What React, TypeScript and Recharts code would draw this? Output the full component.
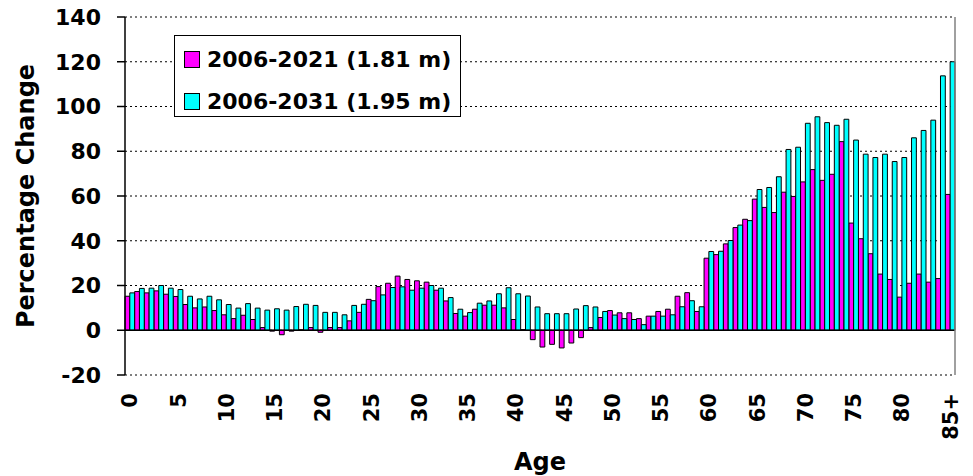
import { BarChart, Bar, XAxis, YAxis, CartesianGrid, ReferenceLine, Legend } from "recharts"

// single years of age, last group is open-ended
const ages = [
  "0", "1", "2", "3", "4", "5", "6", "7", "8", "9",
  "10", "11", "12", "13", "14", "15", "16", "17", "18", "19",
  "20", "21", "22", "23", "24", "25", "26", "27", "28", "29",
  "30", "31", "32", "33", "34", "35", "36", "37", "38", "39",
  "40", "41", "42", "43", "44", "45", "46", "47", "48", "49",
  "50", "51", "52", "53", "54", "55", "56", "57", "58", "59",
  "60", "61", "62", "63", "64", "65", "66", "67", "68", "69",
  "70", "71", "72", "73", "74", "75", "76", "77", "78", "79",
  "80", "81", "82", "83", "84", "85+",
]

// % change 2006-2021
const change2021 = [
  15.2, 17.3, 16.7, 17.6, 16.1, 15.1, 11.5, 10.0, 10.4, 8.8,
  6.9, 5.2, 6.7, 4.8, 1.2, -0.4, -2.0, -0.4, 0.2, 1.2,
  -0.9, 1.2, 1.2, 4.2, 8.0, 13.8, 19.5, 21.0, 24.2, 22.7,
  22.1, 21.5, 17.9, 13.1, 7.5, 6.3, 9.4, 11.2, 11.2, 10.0,
  4.8, 0.3, -4.2, -7.5, -6.3, -7.9, -5.7, -3.3, 1.2, 5.7,
  8.8, 7.8, 7.8, 5.2, 6.3, 8.4, 9.4, 15.2, 16.8, 8.4,
  32.2, 33.8, 38.6, 45.9, 49.6, 58.6, 54.9, 52.6, 61.7, 59.8,
  66.3, 71.8, 67.0, 69.7, 84.3, 47.9, 40.9, 34.2, 25.1, 22.7,
  14.8, 21.0, 25.1, 21.5, 23.1, 60.7,
]

// % change 2006-2031
const change2031 = [
  16.7, 18.7, 18.8, 20.0, 18.8, 18.2, 15.2, 14.0, 15.2, 13.6,
  11.5, 9.9, 11.9, 9.9, 9.0, 9.6, 9.0, 10.6, 11.6, 11.1,
  8.0, 8.0, 6.9, 11.1, 11.6, 13.2, 15.8, 19.1, 19.4, 17.9,
  18.8, 20.0, 18.8, 14.6, 9.4, 7.9, 12.1, 13.1, 16.3, 19.0,
  16.3, 15.3, 10.4, 7.4, 7.4, 7.4, 9.5, 11.0, 10.4, 8.4,
  6.8, 5.2, 4.8, 2.5, 6.3, 6.3, 6.9, 10.5, 13.2, 10.5,
  35.2, 35.3, 40.1, 47.0, 49.0, 62.9, 63.8, 68.6, 80.8, 81.8,
  92.5, 95.4, 92.8, 91.6, 94.3, 85.0, 78.7, 77.2, 78.7, 75.4,
  77.2, 86.0, 89.3, 93.9, 113.7, 120.0,
]

const ageLabels = ["0", "5", "10", "15", "20", "25", "30", "35", "40", "45", "50", "55", "60", "65", "70", "75", "80", "85+"]
const yTicks = [-20, 0, 20, 40, 60, 80, 100, 120, 140]

const data = ages.map((age, i) => ({ age, a: change2021[i], b: change2031[i] }))

function AgeTick(props: any) {
  const { x, y, payload } = props
  if (!ageLabels.includes(payload.value)) return <g />
  return (
    <text
      x={x}
      y={y}
      transform={`rotate(-90, ${x}, ${y})`}
      textAnchor="end"
      dy="0.36em"
      fontSize={21}
      fontWeight="bold"
      fill="#000"
    >
      {payload.value}
    </text>
  )
}

function LegendBox(props: any) {
  const { payload } = props
  return (
    <div style={{ position: "relative", width: 287, height: 82, border: "1px solid #000", background: "#fff", boxSizing: "border-box" }}>
      {payload.map((entry: any, i: number) => (
        <div key={entry.value} style={{ position: "absolute", left: 9, top: 2 + i * 42, height: 42, display: "flex", alignItems: "center" }}>
          <span style={{ display: "inline-block", width: 14, height: 15, background: entry.color, border: "1px solid #000", marginRight: 7 }} />
          <span style={{ fontSize: 22, fontWeight: "bold", color: "#000", whiteSpace: "nowrap" }}>{entry.value}</span>
        </div>
      ))}
    </div>
  )
}

export default function App() {
  return (
    <div style={{ position: "absolute", left: 0, top: 0, width: 973, height: 476, background: "#fff", fontFamily: "'DejaVu Sans', sans-serif" }}>
      <BarChart
        width={973}
        height={476}
        data={data}
        margin={{ top: 17, right: 18, bottom: 0, left: 0 }}
        barGap={0}
        barCategoryGap={0}
      >
        <CartesianGrid vertical={false} stroke="#000" strokeDasharray="2 3" />
        <XAxis
          dataKey="age"
          interval={0}
          height={101}
          axisLine={false}
          tickLine={false}
          tickSize={0}
          tickMargin={18}
          tick={<AgeTick />}
          label={{
            position: "center",
            content: (p: any) => (
              <text x={p.viewBox.x + p.viewBox.width / 2} y={470} textAnchor="middle" fontSize={24} fontWeight="bold" fill="#000">
                Age
              </text>
            ),
          }}
        />
        <YAxis
          width={125}
          domain={[-20, 140]}
          ticks={yTicks}
          interval={0}
          tickSize={8}
          tickMargin={16}
          axisLine={{ stroke: "#000", strokeWidth: 1.5 }}
          tickLine={{ stroke: "#000", strokeWidth: 1.5 }}
          tick={{ fill: "#000", fontSize: 22, fontWeight: "bold" }}
          label={{
            position: "center",
            content: (p: any) => {
              const cy = p.viewBox.y + p.viewBox.height / 2
              return (
                <text x={34} y={cy} transform={`rotate(-90, 34, ${cy})`} textAnchor="middle" fontSize={24} fontWeight="bold" fill="#000">
                  Percentage Change
                </text>
              )
            },
          }}
        />
        <Legend
          layout="vertical"
          align="center"
          verticalAlign="middle"
          content={<LegendBox />}
          wrapperStyle={{ left: 174, top: 35, width: 287, height: 82 }}
        />
        <Bar dataKey="a" name="2006-2021 (1.81 m)" fill="#FF00FF" stroke="#000" strokeWidth={1} barSize={4.8} isAnimationActive={false} />
        <Bar dataKey="b" name="2006-2031 (1.95 m)" fill="#00FFFF" stroke="#000" strokeWidth={1} barSize={4.8} isAnimationActive={false} />
        <ReferenceLine y={0} stroke="#000" strokeWidth={1.5} />
        <ReferenceLine x="85+" position="end" stroke="#808080" strokeWidth={1.5} />
      </BarChart>
    </div>
  )
}
